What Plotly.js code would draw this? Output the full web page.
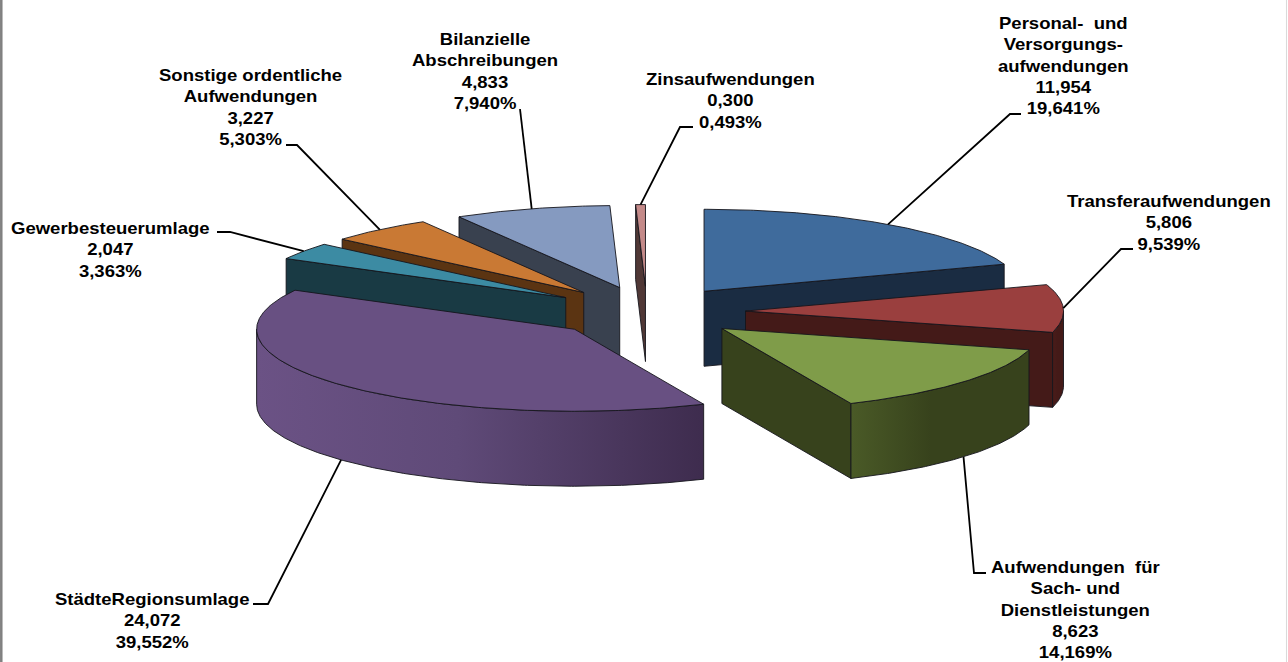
<!DOCTYPE html>
<html>
<head>
<meta charset="utf-8">
<script src="https://cdn.plot.ly/plotly-3.0.1.min.js"></script>
<style>
html,body{margin:0;padding:0;background:#fff;overflow:hidden}
#chart{width:1288px;height:662px}
/* Beschriftung leicht breitgezogen, um die eigene Mitte */
.annotation-text{transform-box:fill-box;transform-origin:center;transform:scaleX(1.13)}
</style>
</head>
<body>
<div id="chart"></div>
<script>
// Aufwendungen je Kategorie (Mio. EUR), im Uhrzeigersinn ab 12 Uhr
const categories = [
  "Personal-\u00a0 und<br>Versorgungs-<br>aufwendungen",
  "Transferaufwendungen",
  "Aufwendungen\u00a0 für<br>Sach- und<br>Dienstleistungen",
  "StädteRegionsumlage",
  "Gewerbesteuerumlage",
  "Sonstige\u00a0ordentliche<br>Aufwendungen",
  "Bilanzielle<br>Abschreibungen",
  "Zinsaufwendungen"
];
const values = [11.954, 5.806, 8.623, 24.072, 2.047, 3.227, 4.833, 0.300];
const percents = [19.641, 9.539, 14.169, 39.552, 3.363, 5.303, 7.940, 0.493];

// Farben: Oberseite, dunkle Seitenfläche, helle Kante des Seitenverlaufs
const topColors  = ["#3f6b9c", "#9a3f3e", "#7f9c49", "#685082", "#3c8ba3", "#c97934", "#859ac0", "#c48a89"];
const sideColors = ["#1a2c42", "#441a18", "#37421c", "#3e2c4e", "#193a44", "#5b3412", "#39414f", "#503836"];
const sideLights = ["#1a2c42", "#4a1c1a", "#4a5a27", "#6b5285", "#193a44", "#5b3412", "#39414f", "#503836"];

// Zeichenreihenfolge von hinten nach vorne
const drawOrder = [6, 7, 5, 4, 3, 0, 1, 2];

// Abmessungen der Torte in der Projektion
const centerX = 647, centerY = 312, radiusX = 318, radiusY = 82, depth = 75, explode = 0.31;

// Position der Beschriftungen und Knickpunkte der Führungslinien
const labelX = [1063, 1169, 1075, 152, 110, 250, 485, 730];
const labelY = [65.5, 222.5, 610, 620, 249, 107, 71, 100];
const leaderBends = [
  [[1010, 114], [1021, 114]],
  [[1121, 249], [1133, 249]],
  [[974, 573], [986, 573]],
  [[268, 604], [253, 604]],
  [[230, 232], [217, 232]],
  [[297, 145], [286, 145]],
  [[520, 109]],
  [[680, 127], [693, 127]]
];

const rad = d => d * Math.PI / 180;
const fmt = v => v.toFixed(3).replace(".", ",");

// Winkel jedes Segments aus den Prozentanteilen
let run = 0;
const slices = percents.map((p, i) => {
  const start = run * 3.6;
  run += p;
  const end = run * 3.6;
  const mid = (start + end) / 2;
  return {
    i, start, end, mid,
    cx: centerX + radiusX * explode * Math.sin(rad(mid)),
    cy: centerY - radiusY * explode * Math.cos(rad(mid))
  };
});

const rim = (s, a) => [s.cx + radiusX * Math.sin(rad(a)), s.cy - radiusY * Math.cos(rad(a))];
const arc = (s, a, b) => {
  const pts = [];
  const n = Math.max(2, Math.ceil((b - a) * 2));
  for (let k = 0; k <= n; k++) pts.push(rim(s, a + (b - a) * k / n));
  return pts;
};
const edge = { color: "#15151c", width: 0.9 };
const poly = (pts, color, extra) => Object.assign({
  type: "scatter", mode: "lines", x: pts.map(p => p[0]), y: pts.map(p => p[1]),
  fill: "toself", fillcolor: color, line: edge, hoverinfo: "skip", showlegend: false
}, extra || {});

const traces = [];

drawOrder.forEach(idx => {
  const s = slices[idx];
  const dark = sideColors[idx];

  // Schnittflächen, sofern sie dem Betrachter zugewandt sind
  const cut = a => {
    const p = rim(s, a);
    return [[s.cx, s.cy], p, [p[0], p[1] + depth], [s.cx, s.cy + depth], [s.cx, s.cy]];
  };
  if (Math.sin(rad(s.start)) < -1e-6) traces.push(poly(cut(s.start), dark));
  if (Math.sin(rad(s.end)) > 1e-6) traces.push(poly(cut(s.end), dark));

  // Sichtbarer Teil des Außenrands mit Verlauf von links nach rechts
  const a0 = Math.max(s.start, 90), a1 = Math.min(s.end, 270);
  if (a1 > a0) {
    const upper = arc(s, a0, a1);
    const lower = upper.slice().reverse().map(p => [p[0], p[1] + depth]);
    const outline = upper.concat(lower, [upper[0]]);
    traces.push(poly(outline, dark, {
      fillcolor: undefined,
      fillgradient: {
        type: "horizontal",
        colorscale: [[0, sideLights[idx]], [0.45, idx === 3 ? "#5f4a78" : dark], [1, dark]]
      }
    }));
  }

  // Oberseite
  const top = [[s.cx, s.cy]].concat(arc(s, s.start, s.end), [[s.cx, s.cy]]);
  traces.push(poly(top, topColors[idx]));
});

// Führungslinien vom Segmentrand zur Beschriftung
slices.forEach(s => {
  const p = rim(s, s.mid);
  const front = s.mid > 90 && s.mid < 270;
  const from = [p[0], p[1] + (front ? depth : 0)];
  const pts = [from].concat(leaderBends[s.i]);
  traces.push({
    type: "scatter", mode: "lines", x: pts.map(q => q[0]), y: pts.map(q => q[1]),
    line: { color: "#000", width: 1.8 }, hoverinfo: "skip", showlegend: false
  });
});

const annotations = slices.map(s => ({
  x: labelX[s.i], y: labelY[s.i], xref: "x", yref: "y",
  xanchor: "center", yanchor: "middle", align: "center", showarrow: false,
  text: "<b>" + categories[s.i] + "<br>" + fmt(values[s.i]) + "<br>" + fmt(percents[s.i]) + "%</b>",
  font: { family: "Liberation Sans, Arial, sans-serif", size: 16.4, color: "#000" }
}));

const layout = {
  width: 1288, height: 662,
  margin: { l: 0, r: 0, t: 0, b: 0 },
  paper_bgcolor: "#fff", plot_bgcolor: "#fff",
  xaxis: { range: [0, 1288], visible: false, fixedrange: true },
  yaxis: { range: [662, 0], visible: false, fixedrange: true },
  annotations,
  shapes: [
    { type: "line", xref: "paper", yref: "paper", x0: 0.001, x1: 0.001, y0: 0, y1: 1, line: { color: "#808080", width: 2.5 } },
    { type: "line", xref: "paper", yref: "paper", x0: 0.9988, x1: 0.9988, y0: 0, y1: 1, line: { color: "#d9d9d9", width: 1 } }
  ]
};

Plotly.newPlot("chart", traces, layout, { displayModeBar: false, staticPlot: true });
</script>
</body>
</html>
